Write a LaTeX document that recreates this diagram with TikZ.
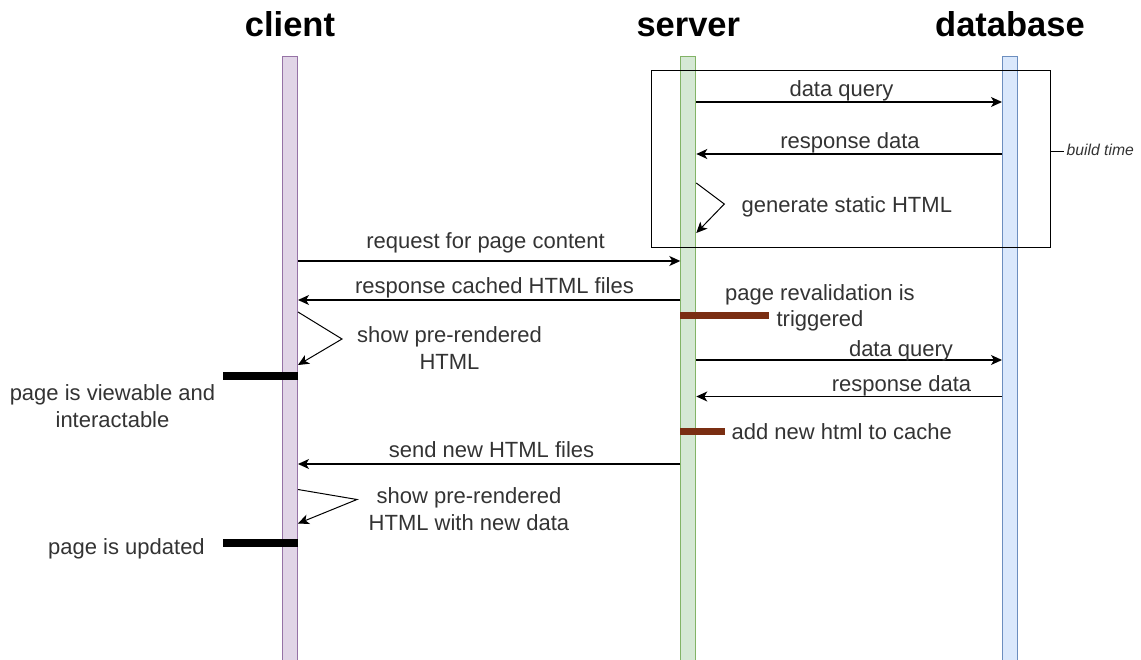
\documentclass[tikz,border=0pt]{standalone}
\usepackage{fontspec}
\setmainfont{Liberation Sans}
\usetikzlibrary{arrows.meta,positioning,calc}

\definecolor{clientfill}{HTML}{E1D5E7}
\definecolor{clientline}{HTML}{9673A6}
\definecolor{serverfill}{HTML}{D5E8D4}
\definecolor{serverline}{HTML}{82B366}
\definecolor{dbfill}{HTML}{DAE8FC}
\definecolor{dbline}{HTML}{6C8EBF}
\definecolor{revbar}{HTML}{7A2E12}

\tikzset{
  life/.style={draw, line width=1pt, minimum width=15pt, minimum height=603pt, inner sep=0pt},
  actor/.style={font=\fontsize{34.5}{38}\selectfont\bfseries, anchor=base},
  msg/.style={-{Stealth[length=11pt,width=10pt,inset=3pt]}, line width=1.3pt},
  selfmsg/.style={-{Stealth[length=11pt,width=10pt,inset=3pt]}, line width=1pt},
  lbl/.style={font=\fontsize{22}{26.6}\selectfont, text=black!80, inner sep=0pt, anchor=base},
  mlbl/.style={lbl, align=center},
  done/.style={line width=8pt},
  revbox/.style={line width=7pt, draw=revbar},
}

\begin{document}
\begin{tikzpicture}[x=1pt, y=-1pt]
  \useasboundingbox (0,0) rectangle (1141,660);

  \node[life, fill=clientfill, draw=clientline] (client) at (290,358.5) {};
  \node[life, fill=serverfill, draw=serverline] (server) at (688.3,358.5) {};
  \node[life, fill=dbfill, draw=dbline] (db) at (1010,358.5) {};

  \node[actor] (tclient) at (290,37) {client};
  \node[actor] (tserver) at (688.3,37) {server};
  \node[actor] (tdb) at (1010,37) {database};

  \node[draw, line width=1pt, minimum width=399pt, minimum height=177pt, inner sep=0pt] (build) at (850.5,159.5) {};
  \node[font=\fontsize{15.7}{18}\selectfont\itshape, text=black!80, anchor=base west, inner sep=0pt] (bt) at (1066.5,156) {build time};
  \draw (build.east |- 0,151) -- (1064,151);

  \draw[msg] (server.east |- 0,102) -- (db.west |- 0,102);
  \node[lbl] (q1) at (841.5,97) {data query};
  \draw[msg] (db.west |- 0,154) -- (server.east |- 0,154);
  \node[lbl] (r1) at (850,149) {response data};
  \draw[selfmsg] (server.east |- 0,183) -- ++(28,21) -- (server.east |- 0,233);
  \node[lbl, anchor=base west] (gen) at (741.5,212.7) {generate static HTML};

  \draw[msg] (client.east |- 0,261) -- (server.west |- 0,261);
  \node[lbl] (req) at (485.5,248.3) {request for page content};
  \draw[msg] (server.west |- 0,300) -- (client.east |- 0,300);
  \node[lbl] (cached) at (494.5,294) {response cached HTML files};
  \draw[revbox] (server.west |- 0,316) -- (769,316);
  \node[mlbl] (reval) at (820,326.7) {page revalidation is\\triggered};
  \draw[selfmsg] (client.east |- 0,312) -- ++(44,27) -- (client.east |- 0,365);
  \node[mlbl] (show1) at (449.5,369.3) {show pre-rendered\\HTML};
  \draw[done] (client.east |- 0,376.5) -- (223,376.5);
  \node[mlbl] (view) at (112.5,427.5) {page is viewable and\\interactable};

  \draw[msg] (server.east |- 0,360) -- (db.west |- 0,360);
  \node[lbl] (q2) at (901,356) {data query};
  \draw[msg] (db.west |- 0,396.5) -- (server.east |- 0,396.5);
  \node[lbl] (r2) at (901.5,391.7) {response data};
  \draw[revbox] (server.west |- 0,431) -- (724.5,431);
  \node[lbl, anchor=base west] (cache) at (731.5,439.3) {add new html to cache};

  \draw[msg] (server.west |- 0,464) -- (client.east |- 0,464);
  \node[lbl] (send) at (491.5,457.3) {send new HTML files};
  \draw[selfmsg] (client.east |- 0,489.5) -- ++(59,10) -- (client.east |- 0,523.5);
  \node[mlbl] (show2) at (469,530) {show pre-rendered\\HTML with new data};
  \draw[done] (client.east |- 0,543) -- (223,543);
  \node[lbl, anchor=base west] (upd) at (48,554) {page is updated};
\end{tikzpicture}
\end{document}
